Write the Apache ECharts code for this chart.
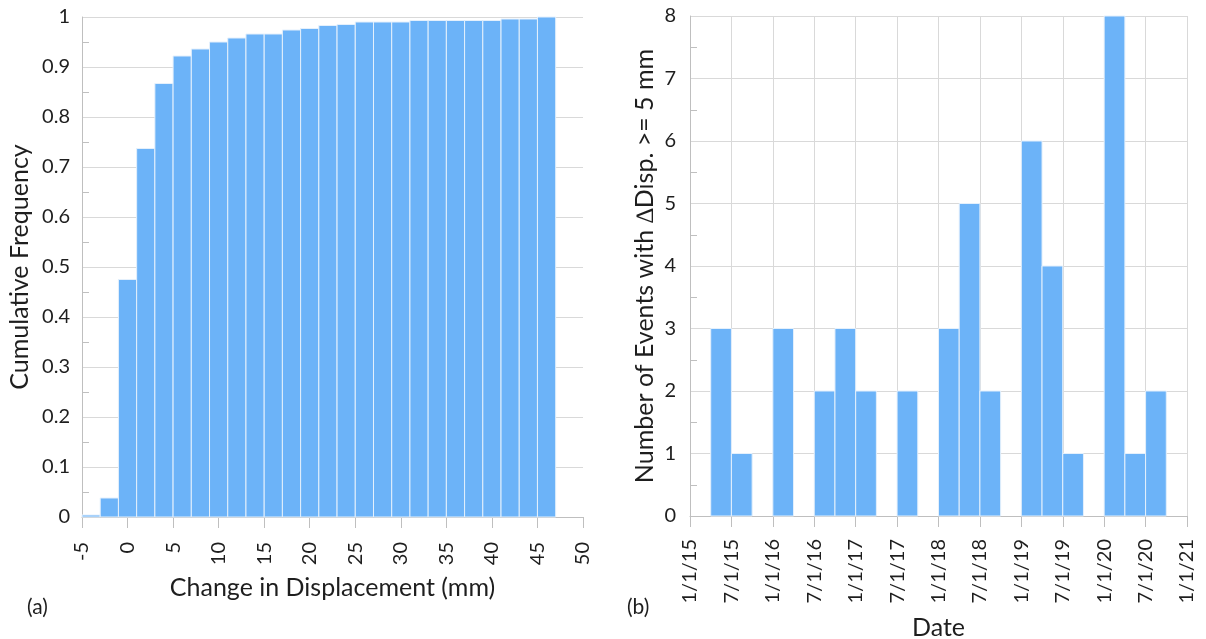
<!DOCTYPE html>
<html><head><meta charset="utf-8">
<script src="https://cdn.jsdelivr.net/npm/echarts@6/dist/echarts.min.js"></script>
<style>html,body{margin:0;padding:0;background:#fff}#c{width:1206px;height:639px}</style>
</head><body><div id="c"></div>
<script>
// (a) cumulative frequency histogram
const dispBinEdges = [-5,-3,-1,1,3,5,7,9,11,13,15,17,19,21,23,25,27,29,31,33,35,37,39,41,43,45,47];
const cumFreq = [0.004,0.038,0.475,0.737,0.867,0.922,0.936,0.950,0.958,0.966,0.966,0.974,0.977,0.983,0.985,0.990,0.990,0.990,0.993,0.993,0.993,0.993,0.993,0.996,0.996,1.0];
// (b) events per quarter
const quarterStarts = ['4/1/15','7/1/15','1/1/16','7/1/16','10/1/16','1/1/17','7/1/17','1/1/18','4/1/18','7/1/18','1/1/19','4/1/19','7/1/19','1/1/20','4/1/20','7/1/20'];
const eventCounts = [3,1,3,2,3,2,2,3,5,2,6,4,1,8,1,2];
const dateTickLabels = ['1/1/15','7/1/15','1/1/16','7/1/16','1/1/17','7/1/17','1/1/18','7/1/18','1/1/19','7/1/19','1/1/20','7/1/20','1/1/21'];

function monthIndex(s){ const p=s.split('/'); return (parseInt(p[2])-15)*12 + (parseInt(p[0])-1); }

const dataA = cumFreq.map((v,i)=>[dispBinEdges[i], dispBinEdges[i+1], v]);
const dataB = eventCounts.map((v,i)=>{ const m=monthIndex(quarterStarts[i]); return [m, m+3, v]; });

const FONT = 'Lato';
const TXT = '#1e1e1e';
const BAR = '#6cb3f8';
const AX = '#bfbfbf';
function renderRect(params, api){
  const p0 = api.coord([api.value(0), api.value(2)]);
  const p1 = api.coord([api.value(1), 0]);
  return {type:'rect', shape:{x:p0[0], y:p0[1], width:p1[0]-p0[0], height:p1[1]-p0[1]},
    style:{fill:BAR, stroke:'#e4f0fc', lineWidth:1}};
}
const chart = echarts.init(document.getElementById('c'), null, {renderer:'canvas'});
chart.setOption({
  animation:false,
  textStyle:{fontFamily:FONT},
  title:[
    {text:'(a)', left:22, top:592, textStyle:{fontFamily:FONT, fontSize:21, fontWeight:'normal', color:TXT}},
    {text:'(b)', left:622, top:592, textStyle:{fontFamily:FONT, fontSize:21, fontWeight:'normal', color:TXT}}
  ],
  grid:[
    {left:82, right:623, top:17, bottom:122, outerBoundsMode:'none', containLabel:false},
    {left:690, right:19, top:16, bottom:123, outerBoundsMode:'none', containLabel:false}
  ],
  xAxis:[
    {gridIndex:0, type:'value', min:-5, max:50, interval:5,
     name:'Change in Displacement (mm)', nameLocation:'middle', nameGap:58,
     nameTextStyle:{fontFamily:FONT, fontSize:25, color:TXT},
     axisLine:{show:true, onZero:false, lineStyle:{color:AX, width:1}},
     axisTick:{show:true, length:11, lineStyle:{color:AX}},
     axisLabel:{rotate:90, fontSize:20, color:TXT, fontFamily:FONT, margin:25},
     splitLine:{show:false}},
    {gridIndex:1, type:'value', min:0, max:72, interval:6,
     name:'Date', nameLocation:'middle', nameGap:99,
     nameTextStyle:{fontFamily:FONT, fontSize:25, color:TXT},
     axisLine:{show:true, onZero:false, lineStyle:{color:AX, width:1}},
     axisTick:{show:true, length:11, lineStyle:{color:AX}},
     axisLabel:{rotate:90, fontSize:20, color:TXT, fontFamily:FONT, margin:23,
       formatter:(v)=>dateTickLabels[Math.round(v/6)]},
     splitLine:{show:true, lineStyle:{color:'#d9d9d9', width:1}}}
  ],
  yAxis:[
    {gridIndex:0, type:'value', min:0, max:1, interval:0.1,
     name:'Cumulative Frequency', nameLocation:'middle', nameGap:50,
     nameTextStyle:{fontFamily:FONT, fontSize:25, color:TXT},
     axisLine:{show:true, onZero:false, lineStyle:{color:AX, width:1}},
     axisTick:{show:false, inside:true},
     minorTick:{show:true, splitNumber:2, length:7, lineStyle:{color:AX}},
     axisLabel:{fontSize:20, color:TXT, fontFamily:FONT, margin:12},
     splitLine:{show:true, lineStyle:{color:'#d9d9d9', width:1}}},
    {gridIndex:1, type:'value', min:0, max:8, interval:1,
     name:'Number of Events with \u2206Disp. >= 5 mm', nameLocation:'middle', nameGap:33,
     nameTextStyle:{fontFamily:FONT, fontSize:25, color:TXT},
     axisLine:{show:true, onZero:false, lineStyle:{color:AX, width:1}},
     axisTick:{show:false, inside:true},
     minorTick:{show:true, splitNumber:2, length:7, lineStyle:{color:AX}},
     axisLabel:{fontSize:20, color:TXT, fontFamily:FONT, margin:14},
     splitLine:{show:true, lineStyle:{color:'#d9d9d9', width:1}}}
  ],
  series:[
    {type:'custom', xAxisIndex:0, yAxisIndex:0, renderItem:renderRect, data:dataA,
     encode:{x:[0,1], y:2}},
    {type:'custom', xAxisIndex:1, yAxisIndex:1, renderItem:renderRect, data:dataB,
     encode:{x:[0,1], y:2}}
  ]
});
</script></body></html>
